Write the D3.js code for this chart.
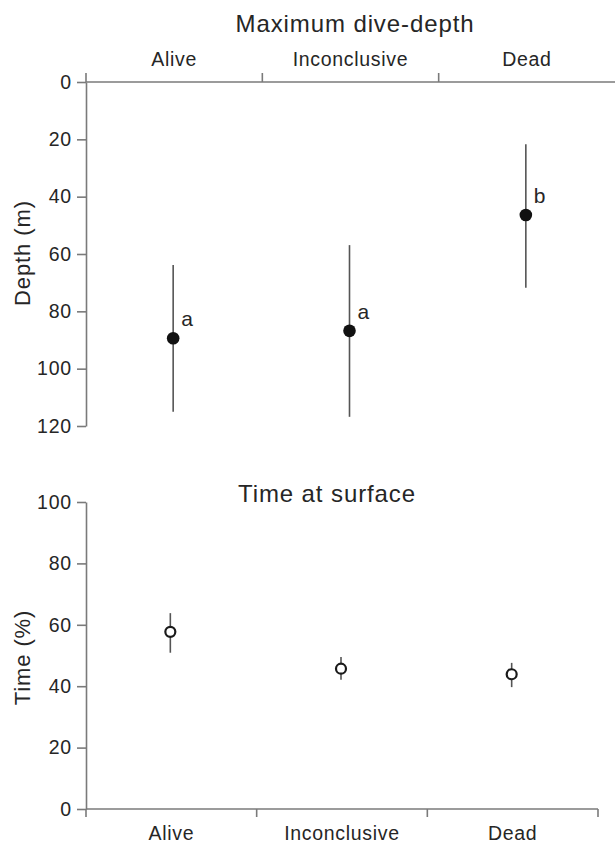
<!DOCTYPE html>
<html>
<head>
<meta charset="utf-8">
<script src="https://cdn.jsdelivr.net/npm/d3@7"></script>
<style>
  html, body { margin: 0; padding: 0; background: #fff; }
  svg { display: block; }
  text { font-family: "Liberation Sans", Arial, Helvetica, sans-serif; fill: #262626; }
</style>
</head>
<body>
<svg id="chart" width="615" height="844"></svg>
<script>
// ---------- data ----------
const categories = ["Alive", "Inconclusive", "Dead"];

const depthMean = [89.4, 86.8, 46.4];
const depthLow  = [63.8, 56.9, 21.7];
const depthHigh = [115.0, 116.8, 71.8];
const depthLetters = ["a", "a", "b"];
const depthTicks = [0, 20, 40, 60, 80, 100, 120];

const timeMean = [57.7, 45.7, 43.9];
const timeLow  = [50.9, 42.1, 39.7];
const timeHigh = [63.8, 49.5, 47.6];
const timeTicks = [0, 20, 40, 60, 80, 100];

const titleTop = "Maximum dive-depth";
const titleBottom = "Time at surface";
const yLabelTop = "Depth (m)";
const yLabelBottom = "Time (%)";

// ---------- drawing ----------
const svg = d3.select("#chart");
const axisColor = "#7a7a7a";
const barColor = "#555";
const textColor = "#262626";

function styleAxis(g, fontSize, spacing) {
  g.selectAll("path, line").attr("stroke", axisColor).attr("stroke-width", 1.6);
  g.selectAll("text")
    .style("font-size", fontSize + "px")
    .style("letter-spacing", spacing + "px")
    .attr("fill", textColor);
}

// ===== Top panel =====
const xTop = d3.scaleBand().domain(categories).range([86, 615]).padding(0);
const yTop = d3.scaleLinear().domain([0, 120]).range([82, 426]);

const gTopY = svg.append("g").attr("transform", "translate(86,0)")
  .call(d3.axisLeft(yTop).tickValues(depthTicks).tickSize(9).tickSizeOuter(0).tickPadding(5));
styleAxis(gTopY, 19.5, 0.8);

// top category axis (labels at band centres, ticks at band boundaries)
const gTopX = svg.append("g").attr("transform", "translate(0,82)")
  .call(d3.axisTop(xTop).tickSize(0).tickPadding(16));
gTopX.select(".domain").remove();
styleAxis(gTopX, 19.5, 0.7);
gTopX.append("line")
  .attr("x1", xTop.range()[0]).attr("x2", xTop.range()[1])
  .attr("stroke", axisColor).attr("stroke-width", 1.6);
const topBounds = categories.map(c => xTop(c)).concat([xTop.range()[1]]);
gTopX.selectAll("line.bound").data(topBounds.slice(0, 3)).enter().append("line")
  .attr("class", "bound")
  .attr("x1", d => d).attr("x2", d => d)
  .attr("y1", 0).attr("y2", -9)
  .attr("stroke", axisColor).attr("stroke-width", 1.6);

svg.append("text")
  .attr("x", 355).attr("y", 32)
  .attr("text-anchor", "middle")
  .style("font-size", "24px").style("letter-spacing", "0.9px")
  .text(titleTop);

svg.append("text")
  .attr("transform", `translate(30,${(yTop(0) + yTop(120)) / 2 - 1}) rotate(-90)`)
  .attr("text-anchor", "middle")
  .style("font-size", "22px").style("letter-spacing", "0.9px")
  .text(yLabelTop);

const topData = categories.map((c, i) => ({
  c, mean: depthMean[i], lo: depthLow[i], hi: depthHigh[i], letter: depthLetters[i]
}));
const topPts = svg.append("g");
topPts.selectAll("line.err").data(topData).enter().append("line")
  .attr("x1", d => xTop(d.c) + xTop.bandwidth() / 2 - 1)
  .attr("x2", d => xTop(d.c) + xTop.bandwidth() / 2 - 1)
  .attr("y1", d => yTop(d.lo)).attr("y2", d => yTop(d.hi))
  .attr("stroke", barColor).attr("stroke-width", 1.6);
topPts.selectAll("circle").data(topData).enter().append("circle")
  .attr("cx", d => xTop(d.c) + xTop.bandwidth() / 2 - 1)
  .attr("cy", d => yTop(d.mean))
  .attr("r", 6.3)
  .attr("fill", "#111");
topPts.selectAll("text").data(topData).enter().append("text")
  .attr("x", d => xTop(d.c) + xTop.bandwidth() / 2 + 7)
  .attr("y", d => yTop(d.mean) - 12)
  .style("font-size", "21px")
  .text(d => d.letter);

// ===== Bottom panel =====
const xBot = d3.scaleBand().domain(categories).range([86, 598]).padding(0);
const yBot = d3.scaleLinear().domain([0, 100]).range([809, 502]);

const gBotY = svg.append("g").attr("transform", "translate(86,0)")
  .call(d3.axisLeft(yBot).tickValues(timeTicks).tickSize(9).tickSizeOuter(0).tickPadding(5));
styleAxis(gBotY, 19.5, 0.8);

const gBotX = svg.append("g").attr("transform", "translate(0,809)")
  .call(d3.axisBottom(xBot).tickSize(0).tickPadding(17));
gBotX.select(".domain").remove();
styleAxis(gBotX, 19.5, 0.7);
gBotX.append("line")
  .attr("x1", xBot.range()[0]).attr("x2", xBot.range()[1])
  .attr("stroke", axisColor).attr("stroke-width", 1.6);
const botBounds = categories.map(c => xBot(c)).concat([xBot.range()[1]]);
gBotX.selectAll("line.bound").data(botBounds).enter().append("line")
  .attr("class", "bound")
  .attr("x1", d => d).attr("x2", d => d)
  .attr("y1", 0).attr("y2", 8)
  .attr("stroke", axisColor).attr("stroke-width", 1.6);

svg.append("text")
  .attr("x", 327).attr("y", 502)
  .attr("text-anchor", "middle")
  .style("font-size", "24px").style("letter-spacing", "0.9px")
  .text(titleBottom);

svg.append("text")
  .attr("transform", `translate(30,${(yBot(0) + yBot(100)) / 2 + 2}) rotate(-90)`)
  .attr("text-anchor", "middle")
  .style("font-size", "22px").style("letter-spacing", "0.9px")
  .text(yLabelBottom);

const botData = categories.map((c, i) => ({
  c, mean: timeMean[i], lo: timeLow[i], hi: timeHigh[i]
}));
const botPts = svg.append("g");
botPts.selectAll("line.err").data(botData).enter().append("line")
  .attr("x1", d => xBot(d.c) + xBot.bandwidth() / 2 - 1)
  .attr("x2", d => xBot(d.c) + xBot.bandwidth() / 2 - 1)
  .attr("y1", d => yBot(d.lo)).attr("y2", d => yBot(d.hi))
  .attr("stroke", barColor).attr("stroke-width", 1.6);
botPts.selectAll("circle").data(botData).enter().append("circle")
  .attr("cx", d => xBot(d.c) + xBot.bandwidth() / 2 - 1)
  .attr("cy", d => yBot(d.mean))
  .attr("r", 5)
  .attr("fill", "#fff")
  .attr("stroke", "#1a1a1a").attr("stroke-width", 2.2);
</script>
</body>
</html>
